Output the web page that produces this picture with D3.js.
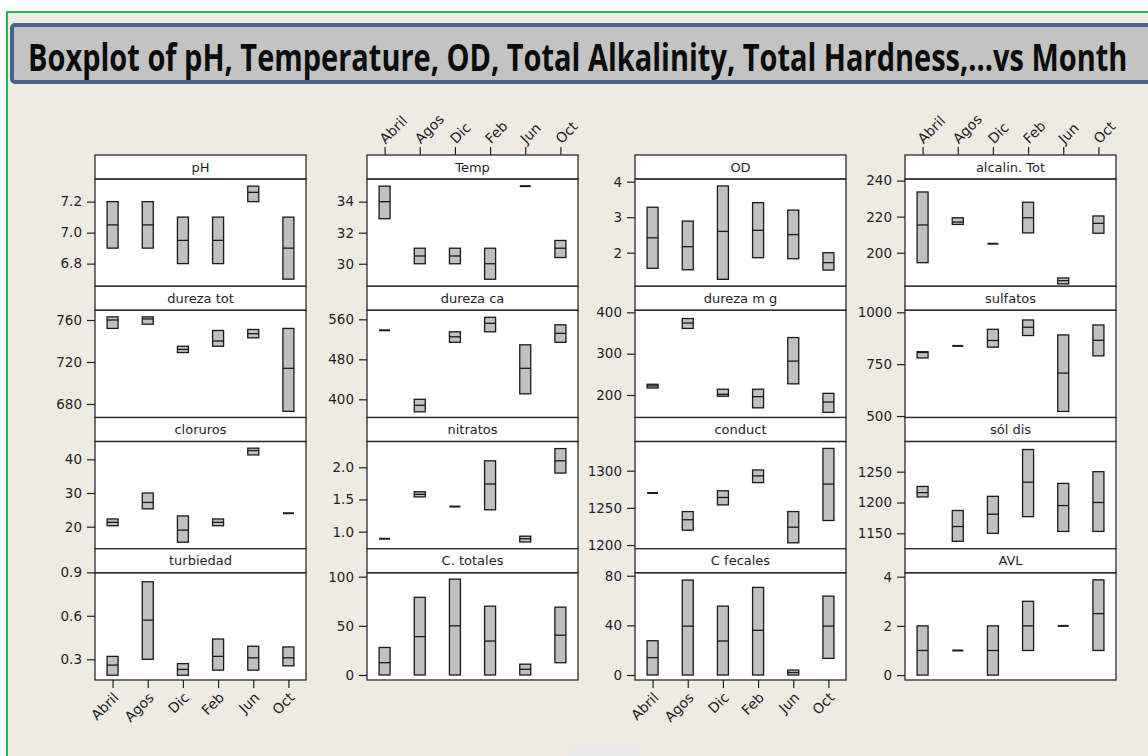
<!DOCTYPE html>
<html>
<head>
<meta charset="utf-8">
<script src="https://cdn.jsdelivr.net/npm/d3@7"></script>
<style>
  body { margin: 0; background: #fff; }
  text { font-family: "DejaVu Sans", sans-serif; fill: #1e1e2a; }
</style>
</head>
<body>
<div id="app"></div>
<script>
// meses (eje x)
const months = ["Abril", "Agos", "Dic", "Feb", "Jun", "Oct"];

// cada fila: [Q1, mediana, Q3] por mes
const pH         = [[6.9, 7.05, 7.2], [6.9, 7.05, 7.2], [6.8, 6.95, 7.1], [6.8, 6.95, 7.1], [7.2, 7.26, 7.3], [6.7, 6.9, 7.1]];
const durezaTot  = [[752, 760, 763], [756, 761, 763], [729, 732, 735], [735, 740, 750], [743, 747, 751], [673, 714, 752]];
const cloruros   = [[20.3, 21.3, 22.3], [25.3, 27.2, 30], [15.4, 19, 23.2], [20.3, 21.3, 22.3], [41.3, 42.6, 43.3], [24, 24, 24]];
const turbiedad  = [[0.19, 0.26, 0.32], [0.3, 0.57, 0.835], [0.19, 0.23, 0.27], [0.225, 0.32, 0.44], [0.225, 0.31, 0.39], [0.255, 0.31, 0.385]];
const temp       = [[32.9, 34, 35], [30, 30.5, 31], [30, 30.5, 31], [29, 30, 31], [35, 35, 35], [30.4, 31, 31.5]];
const durezaCa   = [[538, 538, 538], [375, 388, 400], [514, 525, 535], [535, 552, 564], [411, 462, 509], [514, 532, 549]];
const nitratos   = [[0.89, 0.89, 0.89], [1.54, 1.58, 1.62], [1.39, 1.39, 1.39], [1.34, 1.74, 2.1], [0.84, 0.89, 0.93], [1.91, 2.1, 2.29]];
const cTotales   = [[0, 12.5, 28], [0, 39, 79], [0, 50, 97.5], [0, 34.5, 70], [0, 5.8, 11], [12.5, 40.5, 69]];
const od         = [[1.56, 2.42, 3.28], [1.52, 2.17, 2.89], [1.25, 2.6, 3.88], [1.86, 2.63, 3.41], [1.83, 2.51, 3.2], [1.51, 1.72, 2.0]];
const durezaMg   = [[217, 222, 226], [361, 374, 385], [197, 201.6, 214], [169, 196, 214], [227, 282, 339], [158, 183, 204]];
const conduct    = [[1270, 1270, 1270], [1220, 1234, 1245], [1254, 1264, 1273], [1284, 1293, 1301], [1203, 1224, 1245], [1233, 1282, 1330]];
const cFecales   = [[0, 14, 27.6], [0, 39.4, 76.5], [0, 27.4, 55.5], [0, 36, 70.6], [0, 2, 4], [13.4, 39.4, 63.6]];
const alcalinTot = [[194.5, 215.4, 233.7], [215.7, 217, 219.4], [205, 205, 205], [211, 219.4, 228], [182.7, 184.5, 186], [210.8, 216.3, 220.4]];
const sulfatos   = [[780, 806, 810], [838, 838, 838], [832, 864, 918], [888, 928, 963], [522, 707, 891], [790, 865, 939]];
const solDis     = [[1209, 1216, 1226], [1137, 1161, 1187], [1150, 1181, 1210], [1177, 1233, 1286], [1153, 1195, 1231], [1153, 1200, 1250]];
const avl        = [[0, 1, 2], [1, 1, 1], [0, 1, 2], [1, 2, 3], [2, 2, 2], [1, 2.5, 3.87]];

// ticks del eje y
const pHTicks = [6.8, 7.0, 7.2], durezaTotTicks = [680, 720, 760], clorurosTicks = [20, 30, 40], turbiedadTicks = [0.3, 0.6, 0.9];
const tempTicks = [30, 32, 34], durezaCaTicks = [400, 480, 560], nitratosTicks = [1.0, 1.5, 2.0], cTotalesTicks = [0, 50, 100];
const odTicks = [2, 3, 4], durezaMgTicks = [200, 300, 400], conductTicks = [1200, 1250, 1300], cFecalesTicks = [0, 40, 80];
const alcalinTicks = [200, 220, 240], sulfatosTicks = [500, 750, 1000], solDisTicks = [1150, 1200, 1250], avlTicks = [0, 2, 4];

const W = 1148, H = 756;
const colX = [95, 367, 635, 905], colW = 211;
const gridTop = 155, gridBottom = 680, rowH = (gridBottom - gridTop) / 4, stripH = 24;

const panels = [
  { name: "pH",          data: pH,         ticks: pHTicks,        fmt: ".1f", domain: [6.654, 7.346], col: 0, row: 0 },
  { name: "dureza tot",  data: durezaTot,  ticks: durezaTotTicks, fmt: "d",   domain: [667.1, 769.3], col: 0, row: 1 },
  { name: "cloruros",    data: cloruros,   ticks: clorurosTicks,  fmt: "d",   domain: [13.46, 45.28], col: 0, row: 2 },
  { name: "turbiedad",   data: turbiedad,  ticks: turbiedadTicks, fmt: ".1f", domain: [0.157, 0.897], col: 0, row: 3 },
  { name: "Temp",        data: temp,       ticks: tempTicks,      fmt: "d",   domain: [28.55, 35.46], col: 1, row: 0 },
  { name: "dureza ca",   data: durezaCa,   ticks: durezaCaTicks,  fmt: "d",   domain: [363.6, 578.1], col: 1, row: 1 },
  { name: "nitratos",    data: nitratos,   ticks: nitratosTicks,  fmt: ".1f", domain: [0.735, 2.40],  col: 1, row: 2 },
  { name: "C. totales",  data: cTotales,   ticks: cTotalesTicks,  fmt: "d",   domain: [-5.1, 104],    col: 1, row: 3 },
  { name: "OD",          data: od,         ticks: odTicks,        fmt: "d",   domain: [1.055, 4.076], col: 2, row: 0 },
  { name: "dureza m g",  data: durezaMg,   ticks: durezaMgTicks,  fmt: "d",   domain: [145.6, 405],   col: 2, row: 1 },
  { name: "conduct",     data: conduct,    ticks: conductTicks,   fmt: "d",   domain: [1195, 1339.3], col: 2, row: 2 },
  { name: "C fecales",   data: cFecales,   ticks: cFecalesTicks,  fmt: "d",   domain: [-4.03, 82.4],  col: 2, row: 3 },
  { name: "alcalin. Tot", data: alcalinTot, ticks: alcalinTicks,  fmt: "d",   domain: [181.4, 240.9], col: 3, row: 0 },
  { name: "sulfatos",    data: sulfatos,   ticks: sulfatosTicks,  fmt: "d",   domain: [492.8, 1009.9], col: 3, row: 1 },
  { name: "sól dis",     data: solDis,     ticks: solDisTicks,    fmt: "d",   domain: [1124.9, 1299], col: 3, row: 2 },
  { name: "AVL",         data: avl,        ticks: avlTicks,       fmt: "d",   domain: [-0.2, 4.16],   col: 3, row: 3 }
];

const svg = d3.select("#app").append("svg")
  .attr("width", W).attr("height", H);

/* fondo y marco verde */
svg.append("rect").attr("x", 7).attr("y", 12).attr("width", W).attr("height", H)
  .attr("fill", "#f0ebe2").attr("stroke", "#1fb84f").attr("stroke-width", 2);
svg.append("rect").attr("x", 570).attr("y", 743).attr("width", 67).attr("height", 14)
  .attr("fill", "#e9e9e9");

/* titulo: se escala a lo ancho para que quepa como en el original */
svg.append("rect").attr("x", 12).attr("y", 25).attr("width", W).attr("height", 57).attr("rx", 3)
  .attr("fill", "#c3c3c3").attr("stroke", "#45638c").attr("stroke-width", 4);
const title = svg.append("text")
  .style("font-family", "'Open Sans', sans-serif")
  .style("font-weight", "bold").style("font-size", "37px").style("fill", "#0c0c0c")
  .text("Boxplot of pH, Temperature, OD, Total Alkalinity, Total Hardness,...vs Month");
const tw = title.node().getComputedTextLength();
title.attr("transform", `translate(28,71) scale(${1100 / tw},1)`);

/* columnas: ejes x */
colX.forEach((x0, c) => {
  const x = d3.scalePoint().domain(months).range([x0, x0 + colW]).padding(0.5);
  const g = svg.append("g");
  g.append("rect").attr("x", x0).attr("y", gridTop).attr("width", colW).attr("height", gridBottom - gridTop)
    .attr("fill", "#fff");

  const onTop = c % 2 === 1;
  const ax = g.append("g")
    .attr("transform", `translate(0,${onTop ? gridTop : gridBottom})`)
    .call((onTop ? d3.axisTop(x) : d3.axisBottom(x)).tickSize(8));
  ax.select(".domain").remove();
  ax.selectAll("line").attr("stroke", "#222").attr("stroke-width", 1.2);
  ax.selectAll("text")
    .style("font-size", "14px")
    .attr("x", 0).attr("y", 0).attr("dy", "0.35em")
    .attr("text-anchor", onTop ? "start" : "end")
    .attr("transform", onTop ? "translate(-3,-14) rotate(-45)" : "translate(3,15) rotate(-45)");
});

/* paneles */
panels.forEach(p => {
  const x0 = colX[p.col];
  const rowTop = gridTop + p.row * rowH;
  const py0 = rowTop + stripH, py1 = rowTop + rowH;
  const x = d3.scalePoint().domain(months).range([x0, x0 + colW]).padding(0.5);
  const y = d3.scaleLinear().domain(p.domain).range([py1, py0]);
  const g = svg.append("g");

  // cabecera
  g.append("rect").attr("x", x0).attr("y", rowTop).attr("width", colW).attr("height", stripH)
    .attr("fill", "#fff").attr("stroke", "#2a2a2a").attr("stroke-width", 1.3);
  g.append("text").attr("x", x0 + colW / 2).attr("y", rowTop + stripH / 2 + 1)
    .attr("text-anchor", "middle").attr("dominant-baseline", "middle")
    .style("font-size", "13px").text(p.name);
  g.append("rect").attr("x", x0).attr("y", py0).attr("width", colW).attr("height", py1 - py0)
    .attr("fill", "none").attr("stroke", "#2a2a2a").attr("stroke-width", 1.3);

  // eje y
  const ay = g.append("g").attr("transform", `translate(${x0},0)`)
    .call(d3.axisLeft(y).tickValues(p.ticks).tickFormat(d3.format(p.fmt)).tickSize(8).tickPadding(5));
  ay.select(".domain").remove();
  ay.selectAll("line").attr("stroke", "#222").attr("stroke-width", 1.2);
  ay.selectAll("text").style("font-size", "13.5px");

  // cajas (sin bigotes, como en el original)
  const bw = 11;
  p.data.forEach((d, i) => {
    const cx = x(months[i]);
    const [q1, med, q3] = d;
    const yTop = y(q3), yBot = y(q1);
    if (yBot - yTop < 1.5) {
      g.append("line").attr("x1", cx - bw / 2).attr("x2", cx + bw / 2)
        .attr("y1", y(med)).attr("y2", y(med))
        .attr("stroke", "#1a1a1a").attr("stroke-width", 2);
      return;
    }
    g.append("rect").attr("x", cx - bw / 2).attr("y", yTop).attr("width", bw).attr("height", yBot - yTop)
      .attr("fill", "#c0c0c0").attr("stroke", "#1a1a1a").attr("stroke-width", 1.3);
    g.append("line").attr("x1", cx - bw / 2).attr("x2", cx + bw / 2)
      .attr("y1", y(med)).attr("y2", y(med))
      .attr("stroke", "#1a1a1a").attr("stroke-width", 1.3);
  });
});
</script>
</body>
</html>
